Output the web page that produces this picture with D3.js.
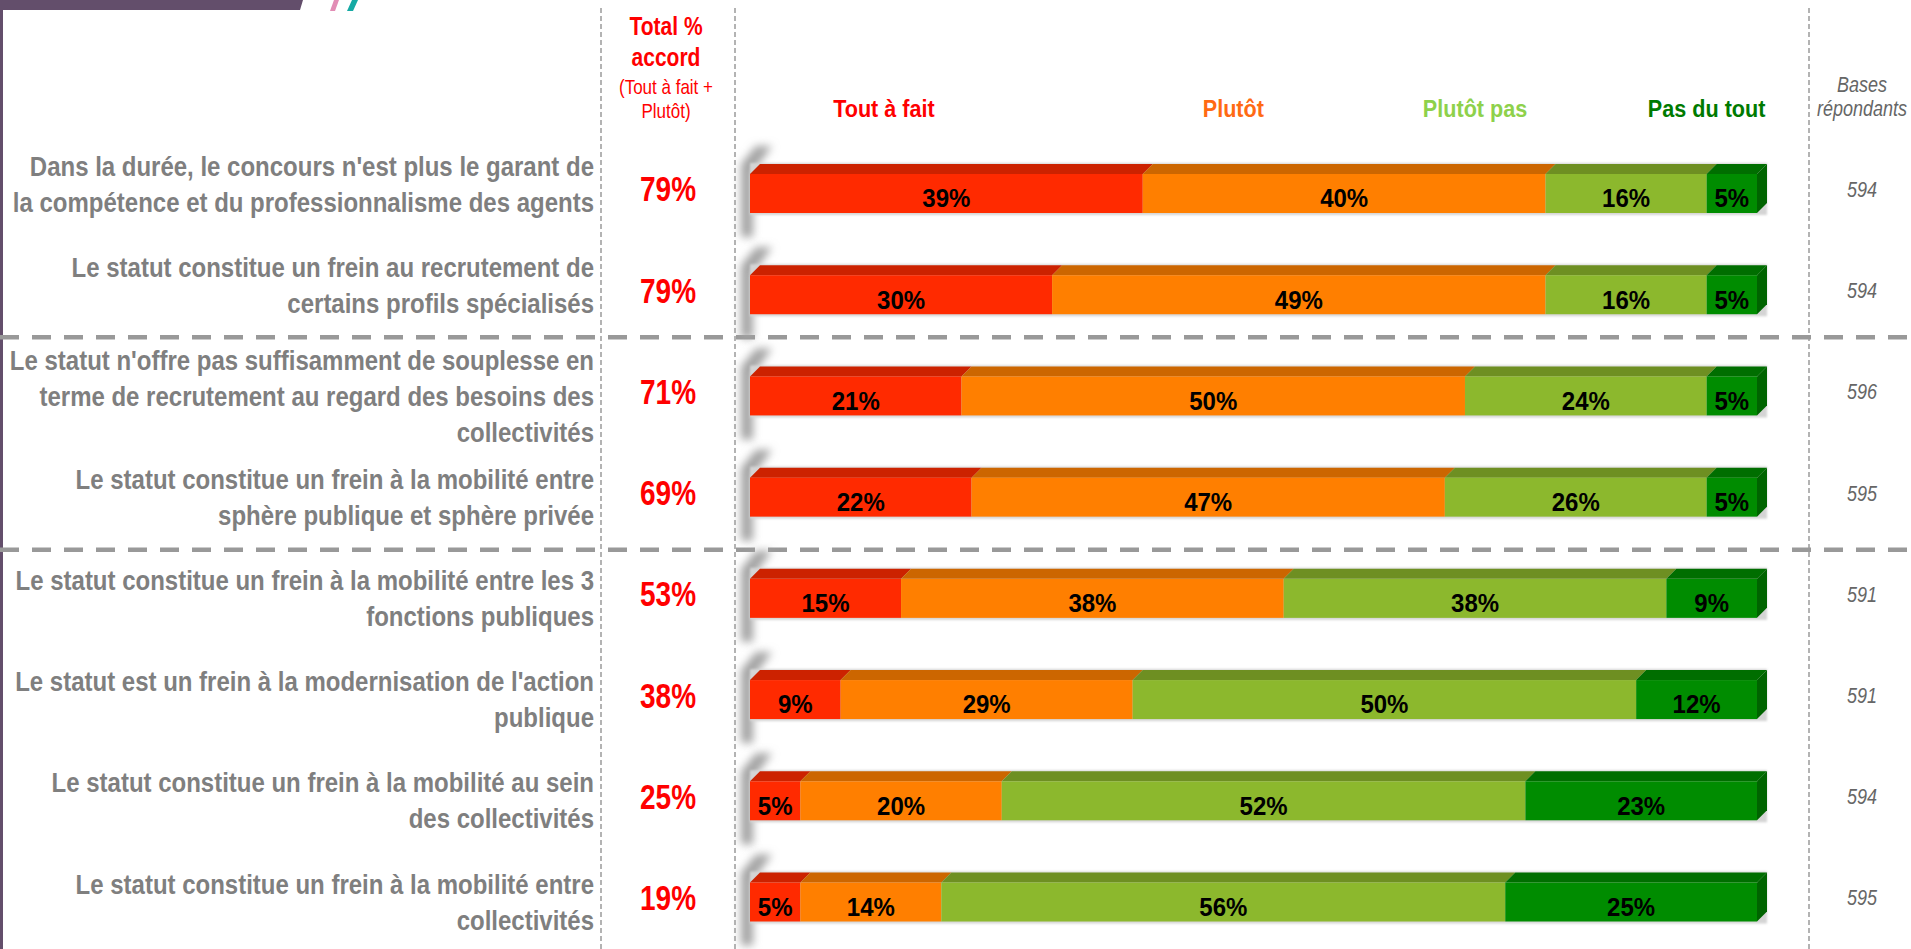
<!doctype html>
<html lang="fr">
<head>
<meta charset="utf-8">
<title>Statut</title>
<script src="https://cdn.jsdelivr.net/npm/d3@7"></script>
<style>
  html, body { margin: 0; padding: 0; background: #fff; }
  body { font-family: "Liberation Sans", Arial, sans-serif; }
  svg { display: block; }
  .lbl { font-weight: bold; fill: #7f7f7f; font-size: 24px; }
  .tot { font-weight: bold; fill: #ff0000; font-size: 28px; }
  .seg-lbl { font-weight: bold; fill: #000; font-size: 24px; }
  .base { font-style: italic; fill: #666; font-size: 18px; }
</style>
</head>
<body>
<script>
  // --- data ---
  const categories = [
    ["Dans la durée, le concours n'est plus le garant de", "la compétence et du professionnalisme des agents"],
    ["Le statut constitue un frein au recrutement de", "certains profils spécialisés"],
    ["Le statut n'offre pas suffisamment de souplesse en", "terme de recrutement au regard des besoins des", "collectivités"],
    ["Le statut constitue un frein à la mobilité entre", "sphère publique et sphère privée"],
    ["Le statut constitue un frein à la mobilité entre les 3", "fonctions publiques"],
    ["Le statut est un frein à la modernisation de l'action", "publique"],
    ["Le statut constitue un frein à la mobilité au sein", "des collectivités"],
    ["Le statut constitue un frein à la mobilité entre", "collectivités"]
  ];
  const seriesNames = ["Tout à fait", "Plutôt", "Plutôt pas", "Pas du tout"];
  const toutAFait = [39, 30, 21, 22, 15, 9, 5, 5];
  const plutot    = [40, 49, 50, 47, 38, 29, 20, 14];
  const plutotPas = [16, 16, 24, 26, 38, 50, 52, 56];
  const pasDuTout = [5, 5, 5, 5, 9, 12, 23, 25];
  const totalAccord = [79, 79, 71, 69, 53, 38, 25, 19];
  const bases = [594, 594, 596, 595, 591, 591, 594, 595];
  const groupBreaks = [2, 4]; // dashed separator after these rows

  // --- look ---
  const frontColor = ["#ff2a00", "#ff7f00", "#8cb82d", "#008c00"];
  const topColor   = ["#cc2200", "#cc6600", "#6e8f22", "#006e00"];
  const sideColor  = ["#b31d00", "#b35900", "#5f7c1d", "#006400"];
  const legendColor = ["#ff0000", "#ff6a13", "#8ed14b", "#007a00"];
  const legendPos = [13.3, 48, 72, 95]; // in % of the bar scale
  const labelShift = [-9, -9, 0, 0, 0, 0, 0, 0];
  const breakShift = [-8, 2];
  const sy = 1.18; // the slide text is stretched vertically

  const width = 1911, height = 949;
  const barH = 39, depth = 10;

  const svg = d3.select("body").append("svg")
      .attr("width", width)
      .attr("height", height);

  const defs = svg.append("defs");
  defs.append("filter").attr("id", "blur").attr("x", "-150%").attr("y", "-50%")
      .attr("width", "400%").attr("height", "200%")
    .append("feGaussianBlur").attr("stdDeviation", 4.5);
  defs.append("filter").attr("id", "soft")
      .append("feGaussianBlur").attr("stdDeviation", 1);

  const x = d3.scaleLinear().domain([0, 100]).range([750, 1757]);
  const y = d3.scalePoint().domain(d3.range(categories.length)).range([193.5, 902]);

  // stretched text helper
  function txt(g, tx, ty, str, k = sy) {
    return g.append("text")
        .attr("transform", `translate(${tx},${ty}) scale(1,${k})`)
        .attr("dy", "0.35em")
        .text(str);
  }

  const rows = categories.map((c, i) => ({
    i, "Tout à fait": toutAFait[i], "Plutôt": plutot[i],
    "Plutôt pas": plutotPas[i], "Pas du tout": pasDuTout[i]
  }));
  const stacked = d3.stack().keys(seriesNames)(rows);

  // top-left decoration
  svg.append("path").attr("d", "M0,0H303L300,10H0Z").attr("fill", "#634e6b");
  svg.append("rect").attr("x", 0).attr("y", 0).attr("width", 3).attr("height", height).attr("fill", "#634e6b");
  svg.append("path").attr("d", "M334,0H339L335,11H330Z").attr("fill", "#e28db5");
  svg.append("path").attr("d", "M352,0H358L353,11H347Z").attr("fill", "#16aaa4");

  // vertical dotted guides
  [601, 735, 1809].forEach(gx => {
    svg.append("line").attr("x1", gx).attr("x2", gx).attr("y1", 8).attr("y2", height)
        .attr("stroke", "#9a9a9a").attr("stroke-width", 1.5).attr("stroke-dasharray", "5,3");
  });

  // group separators
  groupBreaks.forEach((b, j) => {
    const ly = (y(b - 1) + y(b)) / 2 + breakShift[j];
    svg.append("line").attr("x1", 0).attr("x2", width).attr("y1", ly).attr("y2", ly)
        .attr("stroke", "#999").attr("stroke-width", 4.5).attr("stroke-dasharray", "19,13");
  });

  // headers
  const hdr = svg.append("g").attr("text-anchor", "middle").attr("fill", "#ff0000");
  txt(hdr, 666, 26, "Total %", 1.2).attr("font-size", 21).attr("font-weight", "bold");
  txt(hdr, 666, 57, "accord", 1.2).attr("font-size", 21).attr("font-weight", "bold");
  txt(hdr, 666, 87, "(Tout à fait +", 1.2).attr("font-size", 17);
  txt(hdr, 666, 111, "Plutôt)", 1.2).attr("font-size", 17);

  const lg = svg.append("g").attr("text-anchor", "middle")
      .attr("font-size", 21.6).attr("font-weight", "bold");
  seriesNames.forEach((s, k) => {
    txt(lg, x(legendPos[k]), 108, s, 1.14).attr("fill", legendColor[k]);
  });

  const bh = svg.append("g").attr("text-anchor", "middle").attr("class", "base");
  txt(bh, 1862, 85, "Bases");
  txt(bh, 1862, 109, "répondants");

  // rows
  const row = svg.append("g").selectAll("g.row").data(rows).join("g").attr("class", "row");

  row.each(function(d) {
    const g = d3.select(this);
    const lines = categories[d.i];
    const lh = 36;
    const y0 = y(d.i) + labelShift[d.i] - (lines.length - 1) * lh / 2;
    const lbl = g.append("g").attr("class", "lbl").attr("text-anchor", "end");
    lines.forEach((l, k) => txt(lbl, 594, y0 + k * lh, l, 1.14));

    txt(g.append("g").attr("class", "tot").attr("text-anchor", "middle"),
        668, y(d.i) - 4, totalAccord[d.i] + "%", 1.22);
    txt(g.append("g").attr("class", "base").attr("text-anchor", "middle"),
        1862, y(d.i) - 4, bases[d.i]);
  });

  // bar shadows
  row.append("path")
      .attr("d", d => {
        const yt = y(d.i) - barH / 2 - depth, yb = y(d.i) + barH / 2;
        const x0 = x(0);
        return `M${x0 - 9},${yb + 24}H${x0 + 3}V${yt + 8}L${x0 + 22},${yt - 18}H${x0 + 6}L${x0 - 9},${yt}Z`;
      })
      .attr("fill", "#a3a3a3").attr("filter", "url(#blur)");
  row.append("rect")
      .attr("x", x(0)).attr("width", x(100) - x(0) + depth)
      .attr("y", d => y(d.i) - barH / 2 - depth - 1).attr("height", barH + depth + 3)
      .attr("fill", "#d4d4d4").attr("filter", "url(#soft)");

  // 3D segments
  stacked.forEach((s, k) => {
    const seg = row.append("g");
    seg.append("path")
        .attr("fill", topColor[k])
        .attr("d", d => {
          const a = s[d.i], yt = y(d.i) - barH / 2;
          return `M${x(a[0])},${yt}L${x(a[0]) + depth},${yt - depth}L${x(a[1]) + depth},${yt - depth}L${x(a[1])},${yt}Z`;
        });
    seg.append("rect")
        .attr("fill", frontColor[k])
        .attr("x", d => x(s[d.i][0]))
        .attr("width", d => x(s[d.i][1]) - x(s[d.i][0]))
        .attr("y", d => y(d.i) - barH / 2)
        .attr("height", barH);
    if (k === seriesNames.length - 1) {
      seg.append("path")
          .attr("fill", sideColor[k])
          .attr("d", d => {
            const xe = x(s[d.i][1]), yt = y(d.i) - barH / 2, yb = y(d.i) + barH / 2;
            return `M${xe},${yt}L${xe + depth},${yt - depth}L${xe + depth},${yb - depth}L${xe},${yb}Z`;
          });
    }
    seg.each(function(d) {
      const a = s[d.i];
      txt(d3.select(this).append("g").attr("class", "seg-lbl").attr("text-anchor", "middle"),
          (x(a[0]) + x(a[1])) / 2, y(d.i) + 5, a.data[seriesNames[k]] + "%", 1.06);
    });
  });
</script>
</body>
</html>
